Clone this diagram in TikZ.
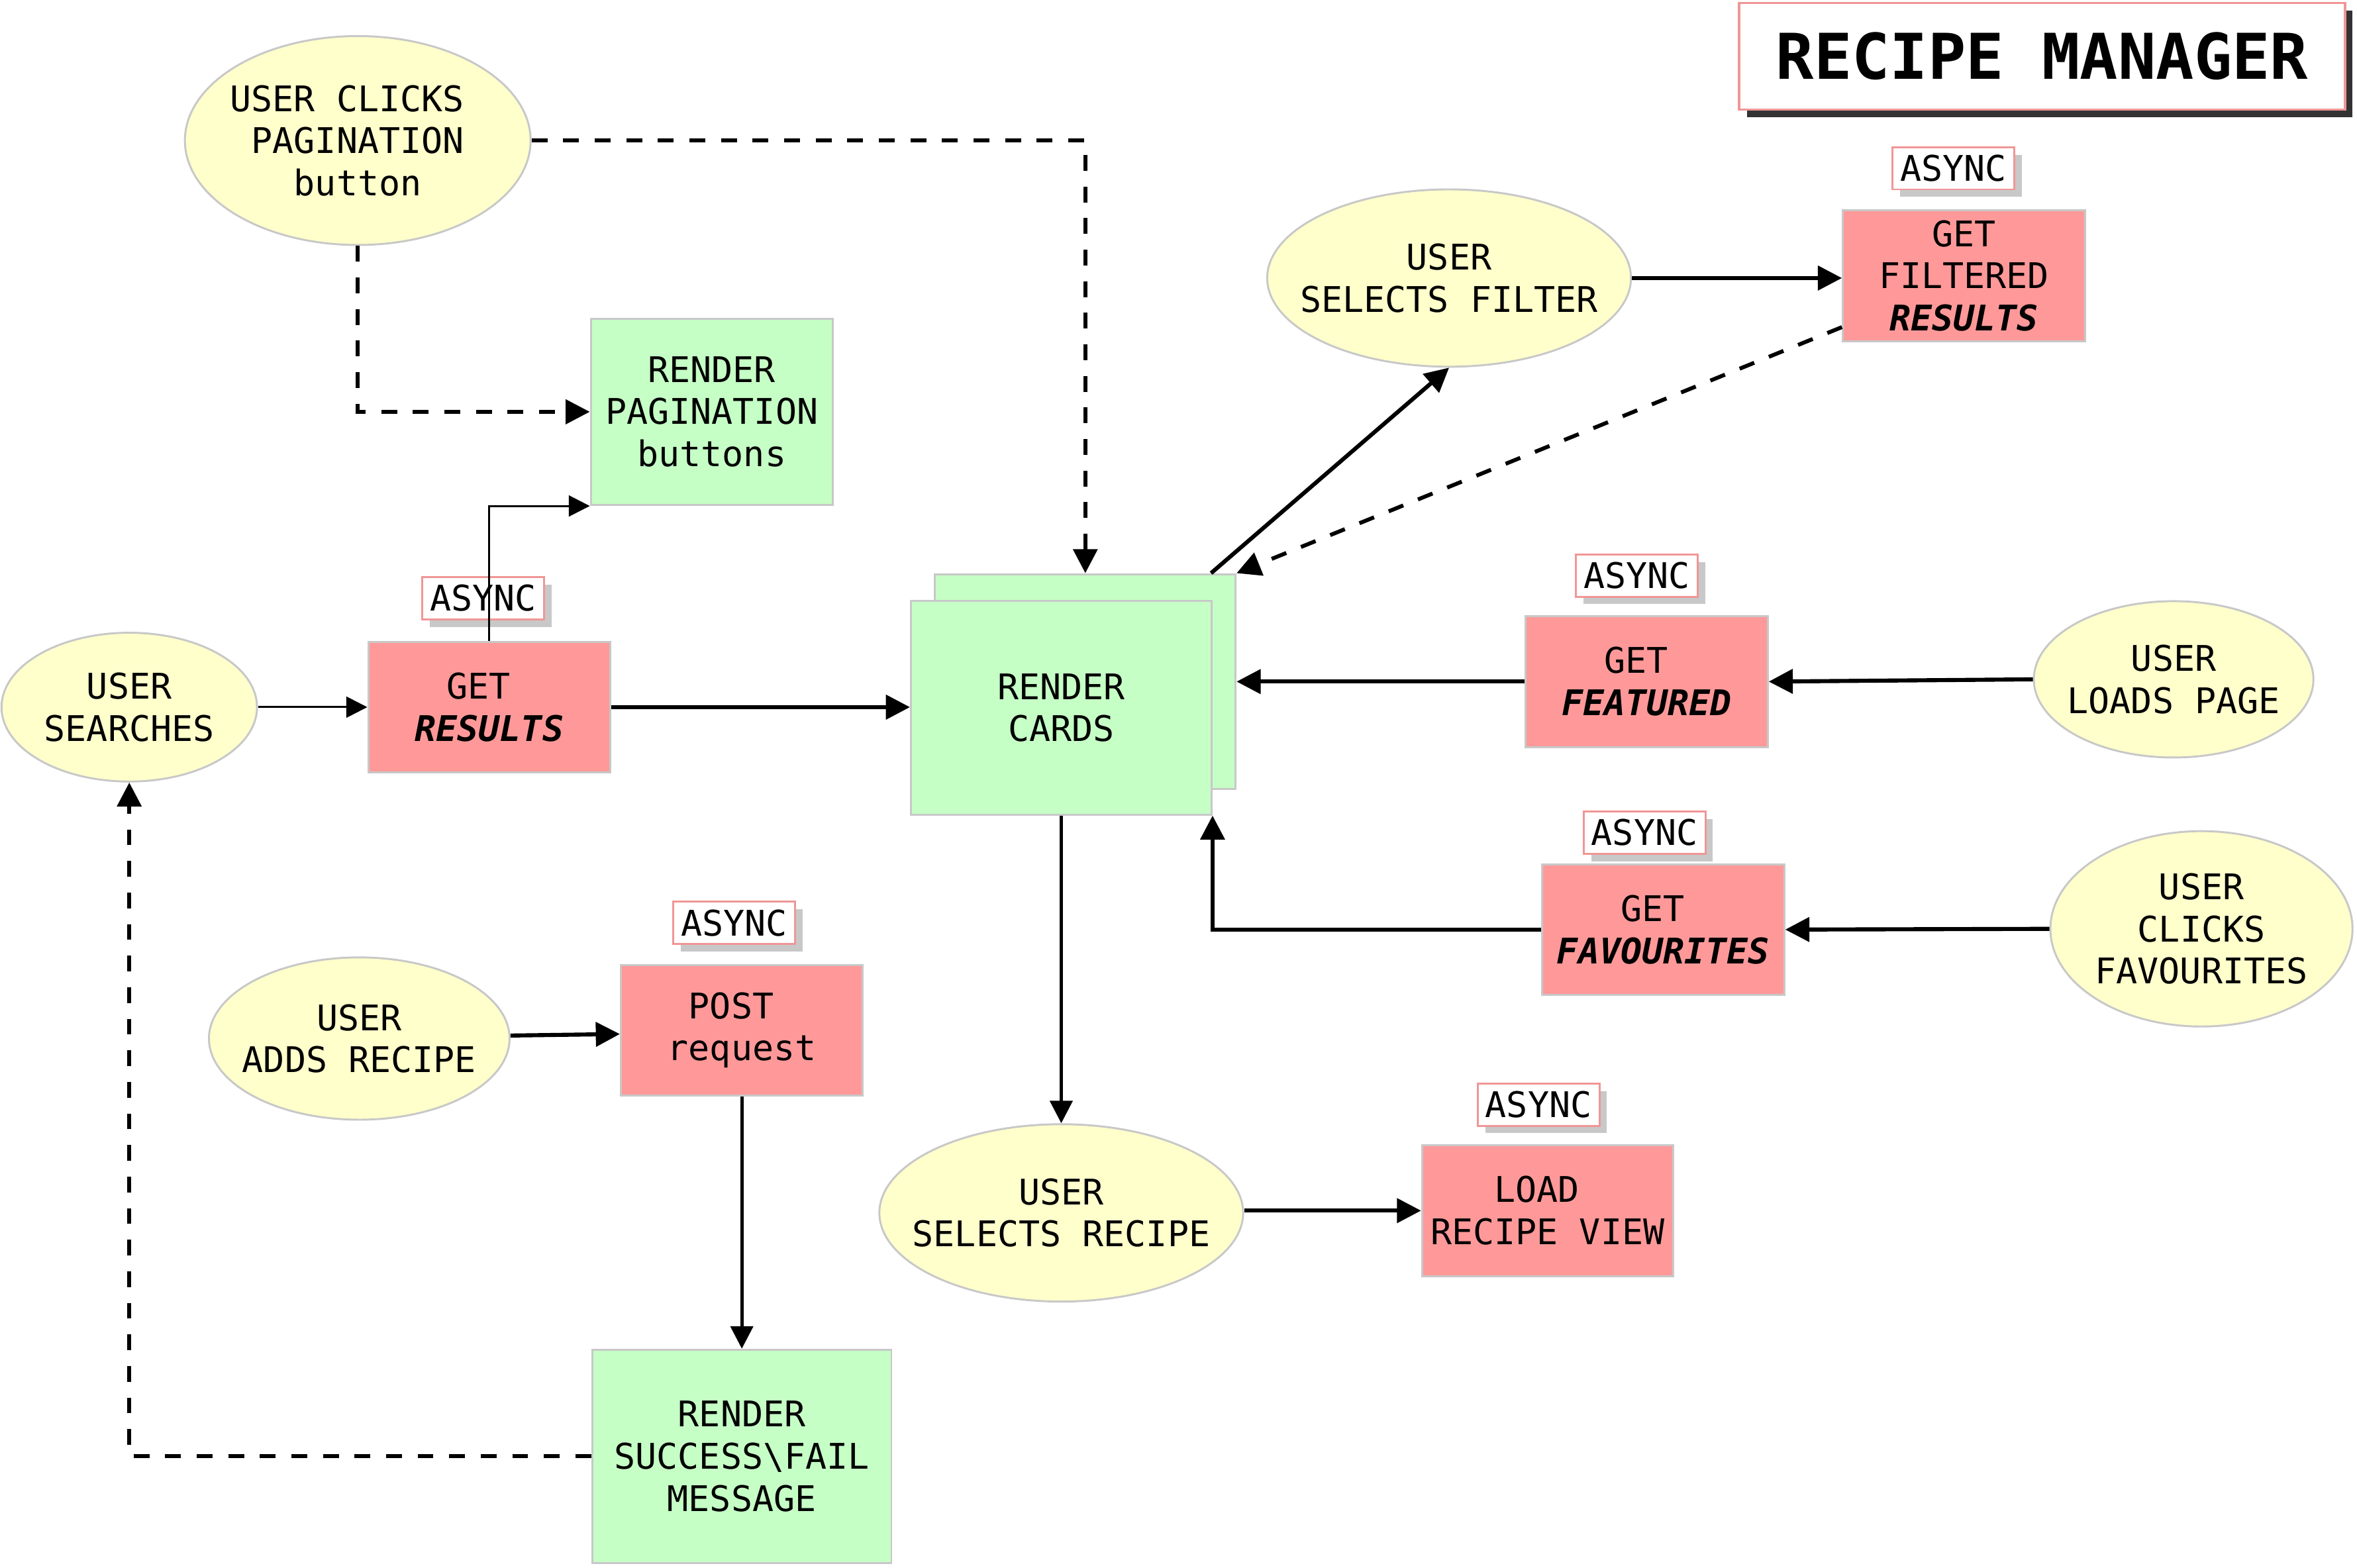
\documentclass[tikz,border=0pt]{standalone}
\usepackage{fontspec}
\setmainfont{DejaVu Sans Mono}
\usetikzlibrary{shapes.geometric,arrows.meta,shadows,calc}
\definecolor{ellfill}{RGB}{255,255,204}
\definecolor{redfill}{RGB}{255,153,153}
\definecolor{greenfill}{RGB}{198,255,198}
\definecolor{bordergray}{RGB}{200,200,200}
\definecolor{pinkline}{RGB}{240,150,150}
\definecolor{shadowgray}{RGB}{200,200,200}
\definecolor{titleshadow}{RGB}{51,51,51}
\newcommand\brushword[1]{{\bfseries\itshape #1}}
\newcommand\halfpad{\hphantom{X}}
\begin{document}
\begin{tikzpicture}[x=1pt,y=-1pt,
  every node/.style={font={\fontsize{23.5}{28}\selectfont}, align=center, inner sep=0pt},
  userell/.style={ellipse, draw=bordergray, line width=1.3pt, fill=ellfill},
  redbox/.style={rectangle, draw=bordergray, line width=1.3pt, fill=redfill},
  greenbox/.style={rectangle, draw=bordergray, line width=1.3pt, fill=greenfill},
  asynclabel/.style={rectangle, draw=pinkline, line width=1.3pt, fill=white,
    minimum width=81pt, minimum height=28pt,
    drop shadow={shadow xshift=5pt, shadow yshift=-5pt, fill=shadowgray, opacity=1}},
  titlebox/.style={rectangle, draw=pinkline, line width=1.5pt, fill=white,
    minimum width=403pt, minimum height=71pt, font={\fontsize{42}{50}\selectfont\bfseries},
    drop shadow={shadow xshift=5pt, shadow yshift=-5pt, fill=titleshadow, opacity=1}},
  flowthick/.style={line width=2.7pt, -{Triangle[length=16pt,width=16pt]}},
  flowmed/.style={line width=2.1pt, -{Triangle[length=15pt,width=15pt]}},
  flowthin/.style={line width=1.3pt, -{Triangle[length=14pt,width=14pt]}},
  flowdash/.style={line width=2.6pt, dash pattern=on 10.5pt off 10.5pt, -{Triangle[length=16pt,width=16pt]}},
]
\useasboundingbox (0,0) rectangle (1568,1043);

% title
\node[titlebox] (title) at (1358.5,37.5) {RECIPE MANAGER};

% ellipses
\node[userell, minimum width=230pt, minimum height=139pt] (click) at (238,93.5) {};
\node at (click.center) {USER CLICKS\halfpad\\PAGINATION\\button};
\node[userell, minimum width=242pt, minimum height=118pt] (filter) at (964,185) {};
\node at (filter.center) {USER\\SELECTS FILTER};
\node[userell, minimum width=170pt, minimum height=99pt] (searches) at (86,470.5) {};
\node at (searches.center) {USER\\SEARCHES};
\node[userell, minimum width=186pt, minimum height=104pt] (loads) at (1446,452) {};
\node at (loads.center) {USER\\LOADS PAGE};
\node[userell, minimum width=201pt, minimum height=130pt] (clickfav) at (1464.5,618) {};
\node at (clickfav.center) {USER\\CLICKS\\FAVOURITES};
\node[userell, minimum width=200pt, minimum height=108pt] (adds) at (239,691) {};
\node at (adds.center) {USER\\ADDS RECIPE};
\node[userell, minimum width=242pt, minimum height=118pt] (selrec) at (706,807) {};
\node at (selrec.center) {USER\\SELECTS RECIPE};

% red boxes
\node[redbox, minimum width=161pt, minimum height=87pt] (results) at (325.5,470.5) {GET\halfpad\\\brushword{RESULTS}};
\node[redbox, minimum width=161pt, minimum height=87pt] (filtered) at (1306.5,183.5) {GET\\FILTERED\\\brushword{RESULTS}};
\node[redbox, minimum width=161pt, minimum height=87pt] (featured) at (1095.5,453.5) {GET\halfpad\\\brushword{FEATURED}};
\node[redbox, minimum width=161pt, minimum height=87pt] (fav) at (1106.5,618.5) {GET\halfpad\\\brushword{FAVOURITES}};
\node[redbox, minimum width=161pt, minimum height=87pt] (post) at (493.5,685.5) {POST\halfpad\\request};
\node[redbox, minimum width=167pt, minimum height=87pt] (load) at (1029.5,805.5) {LOAD\halfpad\\RECIPE VIEW};

% green boxes
\node[greenbox, minimum width=161pt, minimum height=124pt] (pag) at (473.5,274) {RENDER\\PAGINATION\\buttons};
\node[greenbox, minimum width=200pt, minimum height=143pt] (cardsback) at (722,453.5) {};
\node[greenbox, minimum width=200pt, minimum height=142pt] (cards) at (706,471) {RENDER\\CARDS};
\node[greenbox, minimum width=199pt, minimum height=142pt] (success) at (493.5,969) {RENDER\\SUCCESS\textbackslash FAIL\\MESSAGE};

% async labels
\node[asynclabel] (a1) at (321.5,398) {ASYNC};
\node[asynclabel] (a2) at (1299.5,112) {ASYNC};
\node[asynclabel] (a3) at (1089,383) {ASYNC};
\node[asynclabel] (a4) at (1094,554) {ASYNC};
\node[asynclabel] (a5) at (488.5,614) {ASYNC};
\node[asynclabel] (a6) at (1023.5,735) {ASYNC};

% connectors
\draw[flowthin] (searches.east) -- (results.west);
\draw[flowthick] (results.east) -- (cards.west |- results.east);
\draw[flowthin] (results.north) |- (pag.south west);
\draw[flowdash] (click.south) |- (pag.west);
\draw[flowdash] (click.east) -| (cardsback.north);
\draw[flowthick] ($(cardsback.north east)+(-17,0)$) -- (filter.south);
\draw[flowdash] ($(filtered.south west)+(0,-10)$) -- (cardsback.north east);
\draw[flowthick] (filter.east) -- (filtered.west |- filter.east);
\draw[flowthick] (featured.west) -- (cardsback.east |- featured.west);
\draw[flowthick] (loads.west) -- (featured.east);
\draw[flowthick] (fav.west) -| (cards.south east);
\draw[flowthick] (clickfav.west) -- (fav.east);
\draw[flowmed] (cards.south) -- (selrec.north);
\draw[flowthick] ($(selrec.east)+(0,-1.5)$) -- (load.west);
\draw[flowthick] ($(adds.east)+(0,-2)$) -- ($(post.west)+(0,2.5)$);
\draw[flowmed] (post.south) -- (success.north);
\draw[flowdash] (success.west) -| (searches.south);
\end{tikzpicture}
\end{document}
